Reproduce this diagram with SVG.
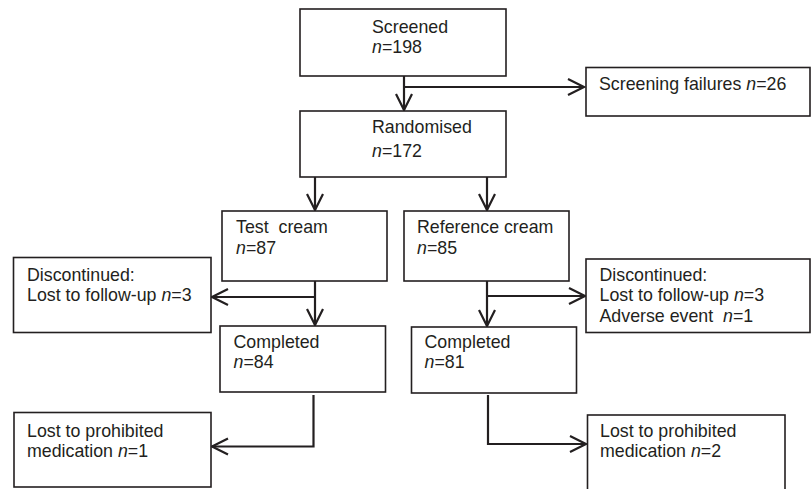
<svg xmlns="http://www.w3.org/2000/svg" width="811" height="489" viewBox="0 0 811 489">
<style>
.box{fill:#fff;stroke:#231f20;stroke-width:1.6}
.t{font-family:"Liberation Sans",Arial,sans-serif;font-size:17.8px;fill:#231f20;white-space:pre}
.c{fill:none;stroke:#231f20;stroke-width:2.2}
</style>
<defs>
<marker id="ah" markerUnits="userSpaceOnUse" markerWidth="24" markerHeight="24" viewBox="-20 -12 24 24" refX="0" refY="0" orient="auto">
<path d="M-16,-8 L0,0 L-16,8" fill="none" stroke="#231f20" stroke-width="2.2"/>
</marker>
</defs>
<rect width="811" height="489" fill="#fff"/>
<g id="connectors">
<path class="c" d="M404,76 V110" marker-end="url(#ah)"/>
<path class="c" d="M404,87 H584" marker-end="url(#ah)"/>
<path class="c" d="M315,177 V210" marker-end="url(#ah)"/>
<path class="c" d="M487,177 V210" marker-end="url(#ah)"/>
<path class="c" d="M315,281 V325" marker-end="url(#ah)"/>
<path class="c" d="M315,297 H212" marker-end="url(#ah)"/>
<path class="c" d="M487,281 V326" marker-end="url(#ah)"/>
<path class="c" d="M487,296 H585" marker-end="url(#ah)"/>
<path class="c" d="M313.5,395 V446.5 H212" marker-end="url(#ah)"/>
<path class="c" d="M488,395 V444 H586" marker-end="url(#ah)"/>
</g>
<g id="screened">
<rect class="box" x="300" y="9" width="206" height="67"/>
<text class="t" x="372" y="33">Screened</text>
<text class="t" x="372" y="53"><tspan font-style="italic">n</tspan>=198</text>
</g>
<g id="screening-failures">
<rect class="box" x="586" y="67.5" width="224" height="48.5"/>
<text class="t" x="599" y="90">Screening failures <tspan font-style="italic">n</tspan>=26</text>
</g>
<g id="randomised">
<rect class="box" x="300" y="111" width="206" height="66"/>
<text class="t" x="372" y="133">Randomised</text>
<text class="t" x="372" y="157"><tspan font-style="italic">n</tspan>=172</text>
</g>
<g id="test-cream">
<rect class="box" x="222" y="211" width="165" height="70"/>
<text class="t" x="236" y="233">Test  cream</text>
<text class="t" x="236" y="254"><tspan font-style="italic">n</tspan>=87</text>
</g>
<g id="reference-cream">
<rect class="box" x="404" y="211" width="165" height="70"/>
<text class="t" x="417" y="233">Reference cream</text>
<text class="t" x="417" y="254"><tspan font-style="italic">n</tspan>=85</text>
</g>
<g id="discontinued-test">
<rect class="box" x="13.5" y="257.5" width="197.5" height="75"/>
<text class="t" x="27" y="281">Discontinued:</text>
<text class="t" x="27" y="301">Lost to follow-up <tspan font-style="italic">n</tspan>=3</text>
</g>
<g id="discontinued-reference">
<rect class="box" x="586" y="259" width="224" height="73.5"/>
<text class="t" x="599.5" y="281">Discontinued:</text>
<text class="t" x="599.5" y="301">Lost to follow-up <tspan font-style="italic">n</tspan>=3</text>
<text class="t" x="599.5" y="321.5">Adverse event  <tspan font-style="italic">n</tspan>=1</text>
</g>
<g id="completed-test">
<rect class="box" x="220" y="326" width="165.5" height="66"/>
<text class="t" x="233.5" y="348">Completed</text>
<text class="t" x="233.5" y="368"><tspan font-style="italic">n</tspan>=84</text>
</g>
<g id="completed-reference">
<rect class="box" x="411.5" y="327" width="165" height="66"/>
<text class="t" x="424.5" y="348">Completed</text>
<text class="t" x="424.5" y="368"><tspan font-style="italic">n</tspan>=81</text>
</g>
<g id="prohibited-test">
<rect class="box" x="14" y="412.5" width="197" height="74.5"/>
<text class="t" x="27" y="436.5">Lost to prohibited</text>
<text class="t" x="27" y="456.5">medication <tspan font-style="italic">n</tspan>=1</text>
</g>
<g id="prohibited-reference">
<rect class="box" x="587.5" y="415" width="197.5" height="80"/>
<text class="t" x="600" y="436.5">Lost to prohibited</text>
<text class="t" x="600" y="456.5">medication <tspan font-style="italic">n</tspan>=2</text>
</g>
</svg>
